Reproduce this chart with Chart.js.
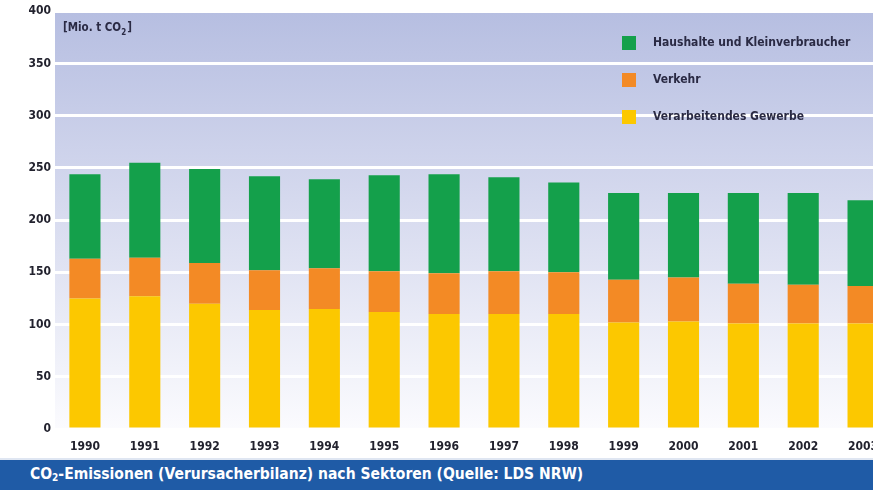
<!DOCTYPE html>
<html>
<head>
<meta charset="utf-8">
<script src="https://cdn.jsdelivr.net/npm/chart.js@4"></script>
<style>
  html, body { margin: 0; padding: 0; background: #fff; overflow: hidden; width: 873px; height: 490px; }
  #wrap { position: absolute; left: 0; top: 0; width: 895px; height: 455px; }
  #banner {
    position: absolute; left: 0; top: 458px; width: 873px; height: 32px;
    background: #1f5ba6; border-top: 2px solid #dfe6f2; box-sizing: border-box;
    color: #fff; font: bold 15.5px "DejaVu Sans Condensed", "DejaVu Sans", sans-serif;
    line-height: 29px; padding-left: 30px; white-space: nowrap;
  }
  #banner sub { font-size: 10px; vertical-align: -2px; line-height: 0; }
</style>
</head>
<body>
<div id="wrap"><canvas id="co2Chart"></canvas></div>
<div id="banner">CO<sub>2</sub>-Emissionen (Verursacherbilanz) nach Sektoren (Quelle: LDS NRW)</div>
<script>
const years = ["1990","1991","1992","1993","1994","1995","1996","1997","1998","1999","2000","2001","2002","2003"];
const verarbeitendes = [125,127,120,114,115,112,110,110,110,102,103,101,101,101];
const verkehr = [38,37,39,38,39,39,39,41,40,41,42,38,37,36];
const haushalte = [81,91,90,90,85,92,95,90,86,83,81,87,88,82];

const FONT = '"DejaVu Sans Condensed", "DejaVu Sans", sans-serif';

// gradient behind the plot
const plotBg = {
  id: 'plotBg',
  beforeDraw(chart) {
    const { ctx, chartArea: a } = chart;
    const g = ctx.createLinearGradient(0, a.top, 0, a.bottom);
    g.addColorStop(0, '#b6bee1');
    g.addColorStop(0.45, '#d5d9ee');
    g.addColorStop(1, '#fbfbfe');
    ctx.save();
    ctx.fillStyle = g;
    ctx.fillRect(a.left, a.top, a.right - a.left, a.bottom - a.top);
    ctx.restore();
  }
};

// unit label + legend boxes in the top right
const extras = {
  id: 'extras',
  afterDraw(chart) {
    const ctx = chart.ctx;
    ctx.save();
    ctx.fillStyle = '#2a2a44';
    ctx.textBaseline = 'middle';
    ctx.font = 'bold 11.5px ' + FONT;
    ctx.fillText('[Mio. t CO', 63, 28);
    let w = ctx.measureText('[Mio. t CO').width;
    ctx.font = 'bold 8px ' + FONT;
    ctx.fillText('2', 63 + w, 33);
    let w2 = ctx.measureText('2').width;
    ctx.font = 'bold 11.5px ' + FONT;
    ctx.fillText(']', 63 + w + w2 + 1, 28);

    const ds = chart.data.datasets.slice().reverse();
    ds.forEach((d, i) => {
      const y = 43 + i * 37;
      ctx.fillStyle = d.backgroundColor;
      ctx.fillRect(622, y - 7, 14, 14);
      ctx.fillStyle = '#2a2a44';
      ctx.font = 'bold 12px ' + FONT;
      ctx.fillText(d.label, 653, y);
    });
    ctx.restore();
  }
};

new Chart(document.getElementById('co2Chart').getContext('2d'), {
  type: 'bar',
  data: {
    labels: years,
    datasets: [
      { label: 'Verarbeitendes Gewerbe', data: verarbeitendes, backgroundColor: '#fcc800' },
      { label: 'Verkehr', data: verkehr, backgroundColor: '#f38a25' },
      { label: 'Haushalte und Kleinverbraucher', data: haushalte, backgroundColor: '#14a04b' }
    ]
  },
  options: {
    responsive: true,
    maintainAspectRatio: false,
    animation: false,
    layout: { padding: { top: 8, right: 2, left: 0, bottom: 0 } },
    datasets: { bar: { barPercentage: 0.52, categoryPercentage: 1 } },
    plugins: {
      legend: { display: false },
      tooltip: { enabled: false }
    },
    scales: {
      x: {
        stacked: true,
        grid: { display: false },
        border: { display: false },
        ticks: { color: '#22222e', font: { family: FONT, size: 12, weight: 'bold' }, padding: 3, maxRotation: 0 },
        afterFit: s => { s.height = 26; }
      },
      y: {
        stacked: true,
        min: 0, max: 400,
        ticks: { stepSize: 50, color: '#22222e', font: { family: FONT, size: 12, weight: 'bold' }, padding: 4 },
        grid: { color: '#ffffff', lineWidth: 3, drawTicks: false },
        border: { display: false },
        afterFit: s => { s.width = 55; }
      }
    }
  },
  plugins: [plotBg, extras]
});
</script>
</body>
</html>
